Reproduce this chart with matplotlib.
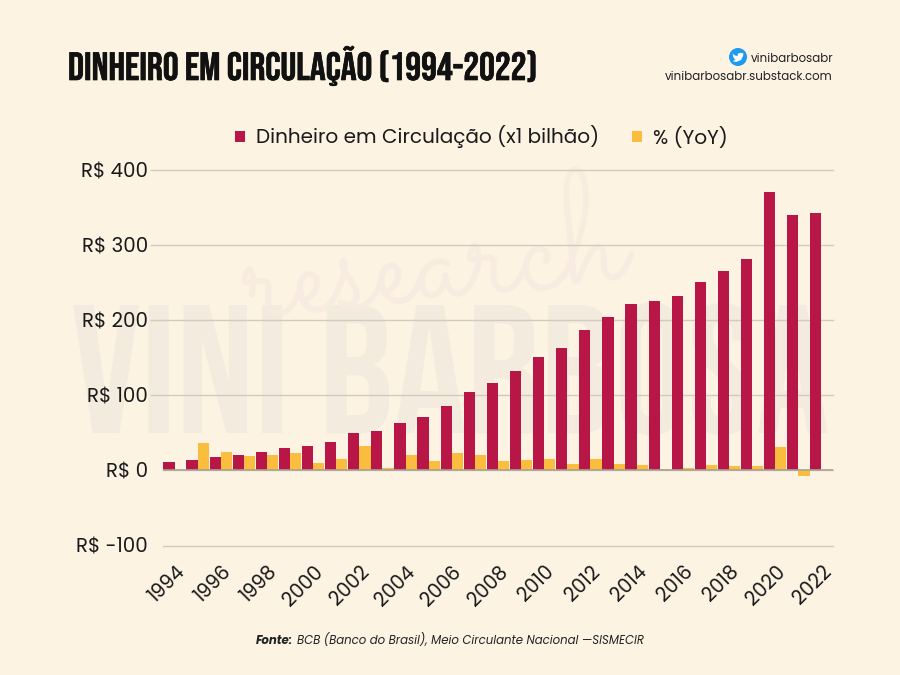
import matplotlib
matplotlib.use('Agg')
import matplotlib.pyplot as plt
import matplotlib.patheffects as pe
import numpy as np
from matplotlib.patches import Circle, PathPatch
from matplotlib.path import Path

# listas com reserva: Inter/DejaVu entram se a fonte de cima nao existir
SANS = ['Poppins', 'Inter', 'DejaVu Sans']
TITLE_FONT = ['Bebas Neue', 'Roboto', 'DejaVu Sans']
SCRIPT_FONT = ['Sacramento', 'DejaVu Serif']
plt.rcParams['font.family'] = SANS

years = list(range(1994, 2023))
dinheiro = [11, 13.5, 17.5, 20.5, 25, 30, 33, 38, 50, 52, 63, 71, 86, 104, 116, 132,
            151, 163, 187, 204, 221, 226, 232, 251, 265, 281, 371, 340, 343]
yoy = [0, 37, 25, 18.6, 20, 23.5, 9.3, 15, 33, 3, 21, 13, 23, 20, 12, 13.7,
       15, 8, 15, 9, 7.5, 1.8, 3, 7.5, 5.8, 5.8, 31.5, -8, 1]
y_ticks = [-100, 0, 100, 200, 300, 400]
y_labels = ['R$ -100', 'R$ 0', 'R$ 100', 'R$ 200', 'R$ 300', 'R$ 400']

BG = '#fcf3e3'
RED = '#b71646'
YELLOW = '#fabd3e'
GRID = '#d2cbbd'
INK = '#1a1a1a'
W, H = 900, 675


def fx(px):
    return px / W


def fy(py):
    return 1 - py / H


fig = plt.figure(figsize=(9, 6.75), dpi=100, facecolor=BG)

# marca d'agua, atras de tudo
fig.text(fx(450), fy(433), 'VINI BARBOSA', family=TITLE_FONT, fontsize=132,
         color='#f3ebdd', ha='center', va='baseline', zorder=-2)
fig.text(fx(437), fy(318), 'research', family=SCRIPT_FONT, fontsize=116, rotation=6,
         color='#f8ebdf', ha='center', va='baseline', zorder=-1)

# eixo: y=400 em 170px, y=-100 em 545.5px
ax = fig.add_axes([fx(163), fy(545.5), (833 - 163) / W, (545.5 - 170) / H])
ax.patch.set_alpha(0)
x = np.arange(len(years))
w = 0.485
ax.bar(x - w / 2, dinheiro, w, color=RED, zorder=3)
ax.bar(x + w / 2, yoy, w, color=YELLOW, zorder=3)

ax.set_xlim(-0.5, len(years) - 0.5)
ax.set_ylim(-100, 400)
ax.set_yticks(y_ticks)
ax.set_yticklabels(y_labels, fontsize=14.2, color=INK)
ax.tick_params(axis='y', length=9.4, width=1, color=GRID, pad=1.5)
ax.grid(axis='y', color=GRID, linewidth=1, zorder=1)
for gl in ax.get_ygridlines():
    gl.set_clip_on(False)
ax.axhline(0, color='#a8a297', linewidth=1.2, zorder=4)
ax.yaxis.get_major_ticks()[0].tick1line.set_visible(False)
ax.yaxis.get_major_ticks()[1].tick1line.set_visible(False)

ax.set_xticks(x[::2])
ax.set_xticklabels(years[::2], fontsize=14, rotation=45, ha='right', rotation_mode='anchor',
                   color=INK)
ax.tick_params(axis='x', length=0, pad=12)
for s in ax.spines.values():
    s.set_visible(False)

fig.text(fx(68), fy(80), 'DINHEIRO EM CIRCULAÇÃO (1994-2022)', family=TITLE_FONT,
         fontsize=28.4, color='#111111', ha='left', va='baseline',
         path_effects=[pe.withStroke(linewidth=0.5, foreground='#111111')])

# legenda
ax.bar([0], [0], color=RED, label='Dinheiro em Circulação (x1 bilhão)')
ax.bar([0], [0], color=YELLOW, label='% (YoY)')
handles, labels = ax.get_legend_handles_labels()
leg = fig.legend(handles, labels, ncol=2, frameon=False, fontsize=14.4, loc='center',
                 bbox_to_anchor=(fx(481.5), fy(137)), handlelength=0.5, handleheight=0.5,
                 handletextpad=0.55, columnspacing=1.65, labelcolor=INK,
                 borderpad=0, borderaxespad=0)

# canto superior direito
fig.text(fx(833), fy(62), 'vinibarbosabr', fontsize=8.5, color='#222222', ha='right', va='baseline')
fig.text(fx(833), fy(80), 'vinibarbosabr.substack.com', fontsize=8.5, color='#222222', ha='right', va='baseline')
pix = fig.add_axes([0, 0, 1, 1], zorder=5)
pix.set_xlim(0, W)
pix.set_ylim(H, 0)
pix.axis('off')
pix.add_patch(Circle((738, 57), 9, color='#1d9bf0', lw=0))
bird = [(732.5, 53.5), (735, 55.5), (737.5, 56), (738, 53.5), (741, 52.8), (743.5, 53.5),
        (743, 56), (741, 60), (736, 62), (732.5, 61), (735.5, 60), (733.5, 57.5)]
pix.add_patch(PathPatch(Path(bird + [bird[0]], closed=True), color='white', lw=0))

# rodape
fig.text(fx(293), fy(644), 'Fonte:', fontsize=8.44, weight='bold', style='italic', color='#222222', ha='right')
fig.text(fx(297), fy(644), 'BCB (Banco do Brasil), Meio Circulante Nacional —SISMECIR', fontsize=8.44,
         style='italic', color='#222222', ha='left')

fig.savefig('out.png', dpi=100, facecolor=BG)
